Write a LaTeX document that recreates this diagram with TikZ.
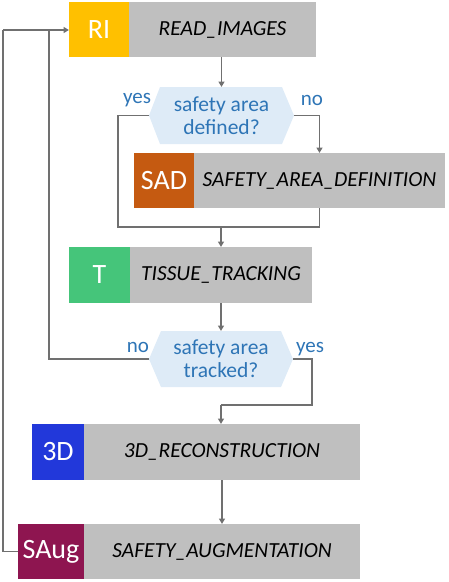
\documentclass[tikz,border=0pt]{standalone}
\usepackage{fontspec}
\setmainfont{Carlito}
\usetikzlibrary{arrows.meta,backgrounds}
\definecolor{ryellow}{HTML}{FFC000}
\definecolor{rorange}{HTML}{C55A11}
\definecolor{rgreen}{HTML}{45C57A}
\definecolor{rblue}{HTML}{2238DA}
\definecolor{rmaroon}{HTML}{8E1550}
\definecolor{boxgray}{HTML}{BFBFBF}
\definecolor{hexfill}{HTML}{DEEBF7}
\definecolor{hexblue}{HTML}{2E75B6}
\definecolor{linegray}{HTML}{707070}
\tikzset{
  tag/.style={inner sep=0pt, outer sep=0pt, text=white, font=\fontsize{28}{30}\selectfont},
  body/.style={fill=boxgray, inner sep=0pt, outer sep=0pt, font=\fontsize{21.5}{24}\selectfont\itshape},
  dec/.style={inner sep=0pt, outer sep=0pt, text=hexblue, align=center, font=\fontsize{21.5}{23}\selectfont},
  lab/.style={inner sep=0pt, text=hexblue, font=\fontsize{21}{22}\selectfont},
  conn/.style={draw=linegray, line width=1.8pt},
  arr/.style={conn, -{Triangle[length=5.5pt,width=6pt]}},
}
\begin{document}
\begin{tikzpicture}[x=1pt,y=-1pt]
\useasboundingbox (0,0) rectangle (448,582);
% boxes
\node[tag, fill=ryellow, minimum width=60pt, minimum height=55pt] (RIc) at (99,29.5) {RI};
\node[body, minimum width=187pt, minimum height=55pt] (RIg) at (222.5,29.5) {READ\_IMAGES};
\node[tag, fill=rorange, minimum width=60pt, minimum height=55pt] (SADc) at (164,180.5) {SAD};
\node[body, minimum width=251pt, minimum height=55pt] (SADg) at (319.5,180.5) {SAFETY\_AREA\_DEFINITION};
\node[tag, fill=rgreen, minimum width=61pt, minimum height=56pt] (Tc) at (99.5,275) {T};
\node[body, minimum width=182pt, minimum height=56pt] (Tg) at (221,275) {TISSUE\_TRACKING};
\node[tag, fill=rblue, minimum width=52pt, minimum height=56pt] (Dc) at (58,452) {3D};
\node[body, minimum width=276pt, minimum height=56pt] (Dg) at (222,452) {3D\_RECONSTRUCTION};
\node[tag, fill=rmaroon, minimum width=66pt, minimum height=55pt] (Sc) at (51,551.5) {SAug};
\node[body, minimum width=276pt, minimum height=55pt] (Sg) at (222,551.5) {SAFETY\_AUGMENTATION};
% decisions
\node[dec, minimum width=145pt, minimum height=57pt] (d1) at (221.5,115.5) {safety area\\defined?};
\node[dec, minimum width=144pt, minimum height=56pt] (d2) at (221,359) {safety area\\tracked?};
\begin{scope}[on background layer]
\fill[hexfill] (d1.west) -- ([xshift=11pt]d1.north west) -- ([xshift=-12pt]d1.north east) -- (d1.east) -- ([xshift=-12pt]d1.south east) -- ([xshift=11pt]d1.south west) -- cycle;
\fill[hexfill] (d2.west) -- ([xshift=12pt]d2.north west) -- ([xshift=-12pt]d2.north east) -- (d2.east) -- ([xshift=-12pt]d2.south east) -- ([xshift=12pt]d2.south west) -- cycle;
\end{scope}
% labels
\node[lab] (y1) at (137,100) {yes};
\node[lab] (n1) at (312,100) {no};
\node[lab] (n2) at (138,347) {no};
\node[lab] (y2) at (310,349) {yes};
% connectors
\coordinate (m) at (221,227);
\coordinate (ly) at (118,227);
\coordinate (r2) at (312,405);
\coordinate (m2) at (221,405);
\coordinate (lb) at (49,30);
\coordinate (lo) at (3,30);
\draw[arr] (d1.north |- RIg.south) -- (d1.north);
\draw[conn] (d1.west) -| (ly) -- (m);
\draw[conn] (SADg.south) |- (m);
\draw[arr] (m) -- (m |- Tg.north);
\draw[arr] (d1.east) -| (SADg.north);
\draw[arr] (Tg.south -| d2.north) -- (d2.north);
\draw[conn] (d2.west) -| (lb);
\draw[conn] (Sc.west) -| (lo);
\draw[arr] (lo) -- (lo -| RIc.west);
\draw[conn] (d2.east) -| (r2) -- (m2);
\draw[arr] (m2) -- (m2 |- Dg.north);
\draw[arr] (Dg.south) -- (Sg.north);
\end{tikzpicture}
\end{document}
